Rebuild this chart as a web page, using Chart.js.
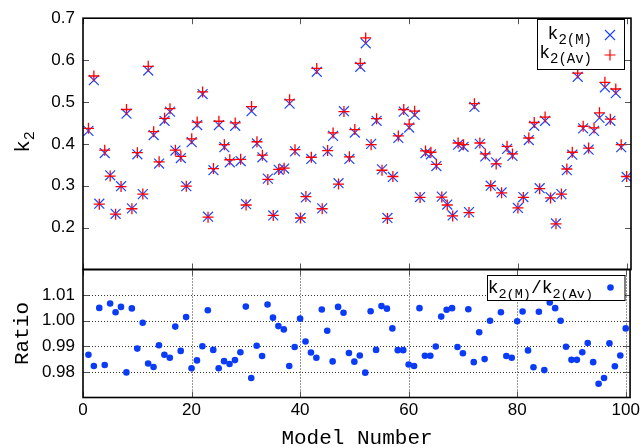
<!DOCTYPE html>
<html>
<head>
<meta charset="utf-8">
<script src="https://cdn.jsdelivr.net/npm/chart.js@4.4.1/dist/chart.umd.min.js"></script>
<style>
  html, body { margin: 0; padding: 0; background: #fff; }
  #wrap { position: relative; width: 643px; height: 448px; }
  canvas { position: absolute; left: 0; top: 0; }
</style>
</head>
<body>
<div id="wrap">
  <canvas id="top" width="643" height="448"></canvas>
  <canvas id="bottom" width="643" height="448"></canvas>
</div>
<script>
// model numbers (x)
const models = [1,2,3,4,5,6,7,8,9,10,11,12,13,14,15,16,17,18,19,20,
  21,22,23,24,25,26,27,28,29,30,31,32,33,34,35,36,37,38,39,40,
  41,42,43,44,45,46,47,48,49,50,51,52,53,54,55,56,57,58,59,60,
  61,62,63,64,65,66,67,68,69,70,71,72,73,74,75,76,77,78,79,80,
  81,82,83,84,85,86,87,88,89,90,91,92,93,94,95,96,97,98,99,100];

// k2(M)
const k2M = [0.431,0.552,0.257,0.378,0.325,0.233,0.299,0.472,0.246,0.375,
  0.280,0.575,0.421,0.353,0.455,0.477,0.384,0.366,0.299,0.404,
  0.445,0.519,0.226,0.337,0.445,0.392,0.356,0.443,0.359,0.256,
  0.478,0.401,0.368,0.317,0.229,0.338,0.341,0.496,0.382,0.223,
  0.272,0.364,0.572,0.246,0.382,0.419,0.306,0.478,0.364,0.427,
  0.584,0.640,0.400,0.455,0.339,0.223,0.321,0.414,0.477,0.439,
  0.469,0.273,0.378,0.375,0.347,0.274,0.255,0.229,0.398,0.393,
  0.237,0.488,0.400,0.370,0.300,0.356,0.284,0.388,0.371,0.247,
  0.273,0.409,0.443,0.294,0.455,0.273,0.210,0.280,0.337,0.374,
  0.560,0.437,0.386,0.431,0.462,0.535,0.455,0.521,0.392,0.321];

// k2(Av)
const k2Av = [0.437,0.562,0.256,0.385,0.323,0.232,0.298,0.482,0.245,0.379,
  0.280,0.585,0.429,0.357,0.461,0.484,0.385,0.370,0.299,0.412,
  0.452,0.524,0.225,0.341,0.454,0.398,0.362,0.450,0.363,0.254,
  0.489,0.405,0.373,0.315,0.229,0.339,0.342,0.505,0.386,0.223,
  0.274,0.368,0.580,0.245,0.384,0.426,0.304,0.477,0.369,0.434,
  0.592,0.653,0.398,0.460,0.337,0.222,0.322,0.419,0.482,0.447,
  0.478,0.272,0.383,0.380,0.351,0.273,0.254,0.228,0.402,0.398,
  0.236,0.496,0.402,0.376,0.300,0.352,0.283,0.394,0.376,0.247,
  0.272,0.414,0.451,0.293,0.464,0.271,0.209,0.280,0.340,0.380,
  0.569,0.442,0.390,0.438,0.474,0.547,0.459,0.531,0.398,0.322];

// k2(M)/k2(Av)
const ratio = [0.9867,0.9823,1.0050,0.9827,1.0067,1.0033,1.0054,0.9798,1.0048,0.9891,
  0.9992,0.9833,0.9819,0.9904,0.9867,0.9855,0.9977,0.9882,1.0014,0.9814,
  0.9845,0.9900,1.0041,0.9886,0.9814,0.9842,0.9831,0.9846,0.9877,1.0055,
  0.9776,0.9902,0.9862,1.0063,1.0012,0.9979,0.9966,0.9823,0.9897,1.0008,
  0.9919,0.9876,0.9855,1.0044,0.9961,0.9841,1.0054,1.0031,0.9874,0.9840,
  0.9864,0.9797,1.0037,0.9886,1.0057,1.0047,0.9970,0.9885,0.9885,0.9829,
  0.9823,1.0049,0.9863,0.9863,0.9899,1.0016,1.0043,1.0049,0.9897,0.9873,
  1.0045,0.9838,0.9955,0.9850,1.0000,1.0120,1.0033,0.9862,0.9855,0.9998,
  1.0036,0.9884,0.9818,1.0035,0.9807,1.0071,1.0049,1.0000,0.9898,0.9847,
  0.9847,0.9877,0.9913,0.9838,0.9754,0.9776,0.9912,0.9822,0.9864,0.9970];

const xTicks = [0, 20, 40, 60, 80, 100];
const k2Ticks = [0.2, 0.3, 0.4, 0.5, 0.6, 0.7];
const ratioTicks = [0.98, 0.99, 1.00, 1.01];

const BLUE = '#1c46ff';
const DOT = '#0a3cf8';
const RED = '#ff0000';
const SANS = '"Liberation Sans", Arial, sans-serif';
const MONO = '"Liberation Mono", "Courier New", monospace';

function pts(ys) {
  return models.map((m, i) => ({ x: m, y: ys[i] }));
}

// gnuplot-ish text with subscripts: parts = [[text, size, dy], ...]
function richText(ctx, parts, x, y, alignRight) {
  let w = 0;
  parts.forEach(p => { ctx.font = p[1] + 'px ' + MONO; w += ctx.measureText(p[0]).width; });
  let cx = alignRight ? x - w : x - w / 2;
  ctx.textAlign = 'left';
  ctx.textBaseline = 'alphabetic';
  parts.forEach(p => {
    ctx.font = p[1] + 'px ' + MONO;
    ctx.fillText(p[0], cx, y + p[2]);
    cx += ctx.measureText(p[0]).width;
  });
}

function framePlugin(yTicks, dotted) {
  return {
    id: 'frame',
    beforeDatasetsDraw(chart) {
      if (!dotted) return;
      const { ctx, chartArea: a, scales: { x, y } } = chart;
      ctx.save();
      ctx.strokeStyle = '#333';
      ctx.lineWidth = 1;
      ctx.setLineDash([1, 2]);
      ctx.beginPath();
      yTicks.forEach(v => {
        const py = Math.round(y.getPixelForValue(v)) + 0.5;
        ctx.moveTo(a.left, py); ctx.lineTo(a.right, py);
      });
      xTicks.forEach(v => {
        if (v === 0) return;
        const px = Math.round(x.getPixelForValue(v)) + 0.5;
        ctx.moveTo(px, a.top); ctx.lineTo(px, a.bottom);
      });
      ctx.stroke();
      ctx.restore();
    },
    afterDatasetsDraw(chart) {
      const { ctx, chartArea: a, scales: { x, y } } = chart;
      ctx.save();
      ctx.strokeStyle = '#555';
      ctx.lineWidth = 1;
      ctx.beginPath();
      const t = 6;
      yTicks.forEach(v => {
        const py = Math.round(y.getPixelForValue(v)) + 0.5;
        ctx.moveTo(a.left, py); ctx.lineTo(a.left + t, py);
        ctx.moveTo(a.right, py); ctx.lineTo(a.right - t, py);
      });
      xTicks.forEach(v => {
        const px = Math.round(x.getPixelForValue(v)) + 0.5;
        ctx.moveTo(px, a.top); ctx.lineTo(px, a.top + t);
        ctx.moveTo(px, a.bottom); ctx.lineTo(px, a.bottom - t);
      });
      ctx.stroke();
      ctx.strokeStyle = '#000';
      ctx.lineWidth = 1.6;
      ctx.strokeRect(a.left, a.top, a.right - a.left, a.bottom - a.top);
      ctx.restore();
    }
  };
}

const topLegend = {
  id: 'topLegend',
  afterDraw(chart) {
    const ctx = chart.ctx;
    ctx.save();
    ctx.fillStyle = '#fff';
    ctx.fillRect(537, 19.5, 87.5, 50);
    ctx.strokeStyle = '#000';
    ctx.lineWidth = 1;
    ctx.strokeRect(537.5, 19.5, 87, 50);
    ctx.fillStyle = '#000';
    richText(ctx, [['k', 18, 0], ['2(M)', 14, 5]], 592, 39, true);
    richText(ctx, [['k', 18, 0], ['2(Av)', 14, 5]], 592, 57.5, true);
    // sample markers
    ctx.lineWidth = 1.2;
    ctx.strokeStyle = BLUE;
    ctx.beginPath();
    ctx.moveTo(605, 30); ctx.lineTo(615, 40);
    ctx.moveTo(615, 30); ctx.lineTo(605, 40);
    ctx.stroke();
    ctx.strokeStyle = RED;
    ctx.beginPath();
    ctx.moveTo(604.5, 55); ctx.lineTo(615.5, 55);
    ctx.moveTo(610, 49.5); ctx.lineTo(610, 60.5);
    ctx.stroke();
    // y title
    ctx.translate(29, 142);
    ctx.rotate(-Math.PI / 2);
    ctx.fillStyle = '#000';
    richText(ctx, [['k', 21, 0], ['2', 15, 5]], 0, 0, false);
    ctx.restore();
  }
};

const bottomLegend = {
  id: 'bottomLegend',
  afterDraw(chart) {
    const ctx = chart.ctx;
    ctx.save();
    ctx.fillStyle = '#fff';
    ctx.fillRect(487, 275.5, 138, 25);
    ctx.strokeStyle = '#000';
    ctx.lineWidth = 1;
    ctx.strokeRect(487.5, 275.5, 137.5, 25);
    ctx.fillStyle = '#000';
    richText(ctx, [['k', 18, 0], ['2(M)', 13.5, 5], ['/', 18, 0], ['k', 18, 0], ['2(Av)', 13.5, 5]], 593, 293, true);
    ctx.fillStyle = DOT;
    ctx.beginPath();
    ctx.arc(610.5, 287.5, 3.3, 0, Math.PI * 2);
    ctx.fill();
    // axis titles
    ctx.fillStyle = '#000';
    ctx.font = '21px ' + MONO;
    ctx.textAlign = 'center';
    ctx.textBaseline = 'alphabetic';
    ctx.fillText('Model Number', 357, 444);
    ctx.translate(28, 333.5);
    ctx.rotate(-Math.PI / 2);
    ctx.fillText('Ratio', 0, 0);
    ctx.restore();
  }
};

const xBase = {
  type: 'linear',
  min: 0,
  max: 100.8,
  afterBuildTicks: s => { s.ticks = xTicks.map(v => ({ value: v })); }
};

new Chart(document.getElementById('top'), {
  type: 'scatter',
  data: {
    datasets: [
      {
        label: 'k2(Av)',
        data: pts(k2Av),
        pointStyle: 'cross',
        pointRadius: 5.5,
        borderColor: RED,
        backgroundColor: RED,
        pointBorderWidth: 1.3,
        order: 0
      },
      {
        label: 'k2(M)',
        data: pts(k2M),
        pointStyle: 'crossRot',
        pointRadius: 7,
        borderColor: BLUE,
        backgroundColor: BLUE,
        pointBorderWidth: 1.2,
        order: 1
      }
    ]
  },
  options: {
    responsive: false,
    animation: false,
    devicePixelRatio: 1,
    layout: { padding: { top: 14, right: 12, bottom: 178.5, left: 0 } },
    plugins: { legend: { display: false }, tooltip: { enabled: false } },
    scales: {
      x: Object.assign({ display: false }, xBase),
      y: {
        type: 'linear',
        min: 0.1,
        max: 0.7,
        afterBuildTicks: s => { s.ticks = k2Ticks.map(v => ({ value: v })); },
        afterFit: s => { s.width = 83; },
        grid: { display: false, drawTicks: false },
        border: { display: false },
        ticks: {
          padding: 8,
          color: '#000',
          font: { family: SANS, size: 17 },
          callback: v => v.toFixed(1)
        }
      }
    }
  },
  plugins: [framePlugin(k2Ticks, false), topLegend]
});

new Chart(document.getElementById('bottom'), {
  type: 'scatter',
  data: {
    datasets: [{
      label: 'k2(M)/k2(Av)',
      data: pts(ratio),
      pointStyle: 'circle',
      pointRadius: 3.3,
      pointBorderWidth: 0,
      backgroundColor: DOT,
      borderColor: DOT
    }]
  },
  options: {
    responsive: false,
    animation: false,
    devicePixelRatio: 1,
    layout: { padding: { top: 269.5, right: 12, bottom: 0, left: 0 } },
    plugins: { legend: { display: false }, tooltip: { enabled: false } },
    scales: {
      x: Object.assign({
        afterFit: s => { s.height = 50.5; },
        grid: { display: false, drawTicks: false },
        border: { display: false },
        ticks: {
          padding: 3,
          maxRotation: 0,
          color: '#000',
          font: { family: SANS, size: 17 },
          callback: v => String(v)
        }
      }, xBase),
      y: {
        type: 'linear',
        min: 0.97,
        max: 1.02,
        afterBuildTicks: s => { s.ticks = ratioTicks.map(v => ({ value: v })); },
        afterFit: s => { s.width = 83; },
        grid: { display: false, drawTicks: false },
        border: { display: false },
        ticks: {
          padding: 8,
          color: '#000',
          font: { family: SANS, size: 17 },
          callback: v => v.toFixed(2)
        }
      }
    }
  },
  plugins: [framePlugin(ratioTicks, true), bottomLegend]
});
</script>
</body>
</html>
